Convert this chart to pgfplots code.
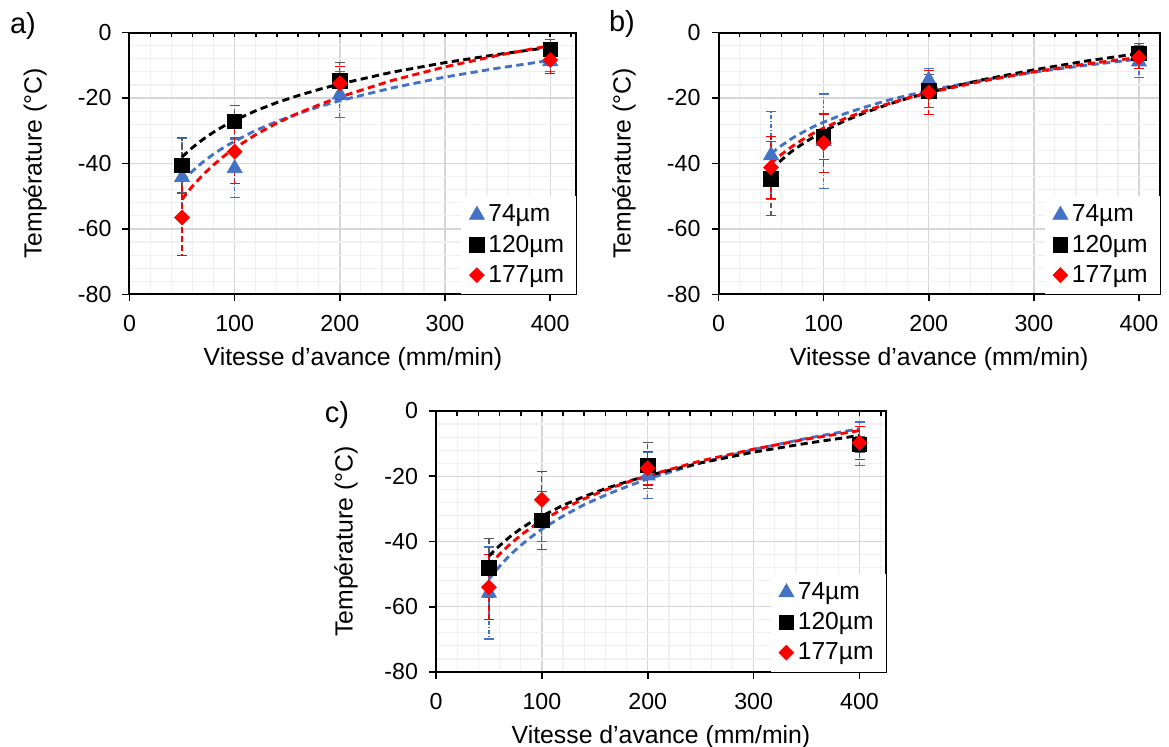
\documentclass[border=0pt]{standalone}
\usepackage{fontspec}
\setmainfont{Liberation Sans}
\usepackage{pgfplots}
\pgfplotsset{compat=1.18}
\definecolor{xblue}{RGB}{68,114,196}
\definecolor{xgray}{RGB}{89,89,89}
\definecolor{xred}{RGB}{255,0,0}

\pgfplotsset{
  panel/.style={
    scale only axis,
    ymin=-80, ymax=0,
    xtick={0,100,200,300,400},
    ytick={-80,-60,-40,-20,0},
    minor xtick={20,40,60,80,120,140,160,180,220,240,260,280,320,340,360,380,420},
    minor ytick={-76,-72,-68,-64,-56,-52,-48,-44,-36,-32,-28,-24,-16,-12,-8,-4},
    grid=both,
    major grid style={color=black!16, line width=0.7pt},
    minor grid style={color=black!6, line width=0.6pt},
    tick pos=left,
    tick align=outside,
    major tick length=3.5pt,
    minor tick length=0pt,
    tick style={black, line width=0.8pt},
    axis line style={line width=1pt},
    ticklabel style={font=\fontsize{11.6}{14}\selectfont},
    xticklabel style={yshift=-3.5pt},
    yticklabel style={xshift=-2pt},
    /pgf/number format/assume math mode=true,
    xlabel={Vitesse d'avance (mm/min)},
    ylabel={Température (°C)},
    label style={font=\fontsize{12.4}{14}\selectfont},
    xlabel style={at={(axis description cs:0.5,-0.248)}, anchor=center},
    legend style={at={(rel axis cs:1,0)}, anchor=south east, draw=none, fill=white,
      font=\fontsize{12.3}{15}\selectfont, row sep=1pt, inner xsep=4pt, inner ysep=2.5pt},
    legend cell align=left,
  },
  topticks/.style={
    scale only axis, ymin=-80, ymax=0,
    hide y axis, axis x line*=top,
    xtick={20,40,...,420}, xticklabels={},
    tick align=inside, major tick length=2.5pt,
    tick style={black, line width=0.8pt},
    x axis line style={draw=none},
  },
  bluepts/.style={only marks, color=xblue, mark=triangle*, mark size=4.3pt,
    mark options={solid, fill=xblue, draw=xblue},
    error bars/.cd, y dir=both, y explicit,
    error bar style={xblue, line width=0.6pt, dash pattern=on 2pt off 1pt on 0.6pt off 1pt},
    error mark options={rotate=90, xblue, line width=0.6pt, mark size=2.5pt, solid}},
  blackpts/.style={only marks, color=black, mark=square*, mark size=3.6pt,
    mark options={solid, fill=black, draw=black},
    error bars/.cd, y dir=both, y explicit,
    error bar style={xgray, line width=0.6pt, dash pattern=on 2.5pt off 1.5pt},
    error mark options={rotate=90, xgray, line width=0.6pt, mark size=2.5pt, solid}},
  redpts/.style={only marks, color=xred, mark=square*, mark size=2.6pt,
    mark options={solid, rotate=45, fill=xred, draw=xred},
    error bars/.cd, y dir=both, y explicit,
    error bar style={xred, line width=0.6pt, dash pattern=on 3pt off 1.5pt},
    error mark options={rotate=90, xred, line width=0.6pt, mark size=2.5pt, solid}},
  trend/.style={no markers, line width=1.45pt, dash pattern=on 3.6pt off 2.2pt, forget plot},
}

\begin{document}
\begin{tikzpicture}
\useasboundingbox (0,0) rectangle (584.5pt,-373.5pt);

% ---------------- panel a ----------------
\begin{axis}[panel, at={(64.75pt,-147.25pt)}, anchor=south west,
  width=223.5pt, height=131pt, xmin=0, xmax=425,
  ylabel style={at={(axis description cs:-0.211,0.5)}, anchor=center}]
\addplot[bluepts] table[x=x, y=y, y error=e] {
x y e
50 -44.2 12
100 -41.5 9
200 -19.0 7
400 -8.8 3
};
\addlegendentry{74µm}
\addplot[blackpts] table[x=x, y=y, y error=e] {
x y e
50 -40.5 8.5
100 -27.2 4.8
200 -14.8 5.6
400 -5.2 3
};
\addlegendentry{120µm}
\addplot[redpts] table[x=x, y=y, y error=e] {
x y e
50 -56.5 11.5
100 -36.4 9.7
200 -15.5 5
400 -8.4 4
};
\addlegendentry{177µm}
\addplot[trend, xblue] coordinates {(50,-45.5) (55,-43.8) (60,-42.3) (70,-39.5) (80,-37.1) (90,-35.0) (100,-33.2) (120,-29.9) (140,-27.2) (160,-24.8) (180,-22.7) (200,-20.8) (250,-16.9) (300,-13.6) (350,-10.9) (400,-8.5)};
\addplot[trend, black] coordinates {(50,-38.0) (55,-36.5) (60,-35.1) (70,-32.6) (80,-30.4) (90,-28.5) (100,-26.8) (120,-23.9) (140,-21.4) (160,-19.3) (180,-17.4) (200,-15.7) (250,-12.1) (300,-9.2) (350,-6.7) (400,-4.5)};
\addplot[trend, xred] coordinates {(50,-51.0) (55,-48.8) (60,-46.9) (70,-43.4) (80,-40.4) (90,-37.7) (100,-35.3) (120,-31.2) (140,-27.7) (160,-24.7) (180,-22.1) (200,-19.7) (250,-14.6) (300,-10.5) (350,-7.0) (400,-4.0)};
\end{axis}
\begin{axis}[topticks, at={(64.75pt,-147.25pt)}, anchor=south west,
  width=223.5pt, height=131pt, xmin=0, xmax=425]
\end{axis}

% ---------------- panel b ----------------
\begin{axis}[panel, at={(359.25pt,-147.25pt)}, anchor=south west,
  width=220.75pt, height=131pt, xmin=0, xmax=420,
  ylabel style={at={(axis description cs:-0.214,0.5)}, anchor=center}]
\addplot[bluepts] table[x=x, y=y, y error=e] {
x y e
50 -37.5 13.4
100 -33.2 14.4
200 -14.5 3.5
400 -8.9 4.8
};
\addlegendentry{74µm}
\addplot[blackpts] table[x=x, y=y, y error=e] {
x y e
50 -44.7 11.3
100 -31.8 7
200 -17.8 5
400 -6.4 3
};
\addlegendentry{120µm}
\addplot[redpts] table[x=x, y=y, y error=e] {
x y e
50 -41.2 9.4
100 -33.8 8.9
200 -18.3 6.8
400 -7.6 3.4
};
\addlegendentry{177µm}
\addplot[trend, xblue] coordinates {(50,-37.0) (55,-35.7) (60,-34.5) (70,-32.3) (80,-30.5) (90,-28.8) (100,-27.4) (120,-24.8) (140,-22.7) (160,-20.8) (180,-19.2) (200,-17.7) (250,-14.6) (300,-12.1) (350,-10.0) (400,-8.1)};
\addplot[trend, black] coordinates {(50,-42.0) (55,-40.4) (60,-38.9) (70,-36.2) (80,-34.0) (90,-32.0) (100,-30.1) (120,-27.0) (140,-24.4) (160,-22.1) (180,-20.1) (200,-18.3) (250,-14.5) (300,-11.4) (350,-8.7) (400,-6.4)};
\addplot[trend, xred] coordinates {(50,-40.0) (55,-38.5) (60,-37.2) (70,-34.8) (80,-32.7) (90,-30.8) (100,-29.2) (120,-26.3) (140,-23.9) (160,-21.9) (180,-20.0) (200,-18.4) (250,-14.9) (300,-12.0) (350,-9.6) (400,-7.6)};
\end{axis}
\begin{axis}[topticks, at={(359.25pt,-147.25pt)}, anchor=south west,
  width=220.75pt, height=131pt, xmin=0, xmax=420]
\end{axis}

% ---------------- panel c ----------------
\begin{axis}[panel, at={(218pt,-336pt)}, anchor=south west,
  width=225pt, height=130.5pt, xmin=0, xmax=425,
  ylabel style={at={(axis description cs:-0.2,0.5)}, anchor=center}]
\addplot[bluepts] table[x=x, y=y, y error=e] {
x y e
50 -55.8 14.1
100 -34.0 6
200 -19.8 7
400 -10.0 6.6
};
\addlegendentry{74µm}
\addplot[blackpts] table[x=x, y=y, y error=e] {
x y e
50 -48.1 9
100 -33.5 8.9
200 -16.7 7
400 -10.3 2.5
};
\addlegendentry{120µm}
\addplot[redpts] table[x=x, y=y, y error=e] {
x y e
50 -54.0 9.9
100 -27.2 8.6
200 -17.5 5.2
400 -9.8 5
};
\addlegendentry{177µm}
\addplot[trend, xblue] coordinates {(50,-51.6) (55,-49.5) (60,-47.6) (70,-44.1) (80,-41.2) (90,-38.6) (100,-36.2) (120,-32.2) (140,-28.7) (160,-25.8) (180,-23.2) (200,-20.8) (250,-15.9) (300,-11.8) (350,-8.4) (400,-5.4)};
\addplot[trend, black] coordinates {(50,-44.5) (55,-42.8) (60,-41.3) (70,-38.5) (80,-36.1) (90,-34.0) (100,-32.2) (120,-28.9) (140,-26.2) (160,-23.8) (180,-21.7) (200,-19.8) (250,-15.9) (300,-12.6) (350,-9.9) (400,-7.5)};
\addplot[trend, xred] coordinates {(50,-47.5) (55,-45.6) (60,-43.9) (70,-40.8) (80,-38.1) (90,-35.7) (100,-33.6) (120,-30.0) (140,-26.9) (160,-24.2) (180,-21.9) (200,-19.8) (250,-15.3) (300,-11.7) (350,-8.6) (400,-6.0)};
\end{axis}
\begin{axis}[topticks, at={(218pt,-336pt)}, anchor=south west,
  width=225pt, height=130.5pt, xmin=0, xmax=425]
\end{axis}

\node[font=\fontsize{14.5}{16}\selectfont] at (11.5pt,-13pt) {a)};
\node[font=\fontsize{14.5}{16}\selectfont] at (311pt,-12pt) {b)};
\node[font=\fontsize{14.5}{16}\selectfont] at (168.5pt,-207.5pt) {c)};
\end{tikzpicture}
\end{document}
